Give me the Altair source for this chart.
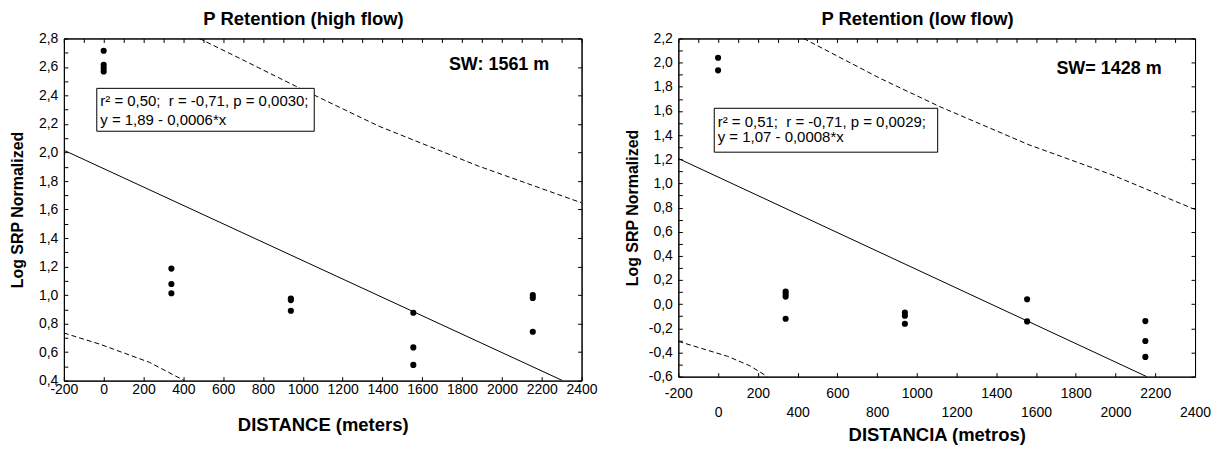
import altair as alt
import pandas as pd

FONT = "Liberation Sans"
NB = "\u00a0"

# ---------------- data: high flow panel ----------------
hf_title = "P Retention (high flow)"
hf_xtitle = "DISTANCE (meters)"
hf_dist = [0, 0, 0, 0, 340, 340, 340, 940, 940, 940, 1555, 1555, 1555, 2155, 2155, 2155]
hf_srp = [2.714, 2.616, 2.592, 2.569, 1.186, 1.078, 1.013, 0.976, 0.965, 0.89,
          0.876, 0.633, 0.51, 1.0, 0.98, 0.743]
hf_fit_x = [-200, 2305]
hf_fit_y = [2.016, 0.40]
hf_up_x = [480, 713, 963, 1380, 1880, 2372, 2400]
hf_up_y = [2.80, 2.64, 2.466, 2.186, 1.906, 1.661, 1.648]
hf_lo_x = [-200, -20, 230, 405]
hf_lo_y = [0.734, 0.656, 0.528, 0.40]
hf_ann = ["r\u00b2 = 0,50;" + NB + " r = -0,71, p = 0,0030;", "y = 1,89 - 0,0006*x"]
hf_sw = "SW: 1561 m"
hf_xdom = [-200, 2400]
hf_ydom = [0.4, 2.8]
hf_xticks = [-200, 0, 200, 400, 600, 800, 1000, 1200, 1400, 1600, 1800, 2000, 2200, 2400]
hf_yticks = [0.4, 0.5, 0.6, 0.7, 0.8, 0.9, 1.0, 1.1, 1.2, 1.3, 1.4, 1.5, 1.6, 1.7,
             1.8, 1.9, 2.0, 2.1, 2.2, 2.3, 2.4, 2.5, 2.6, 2.7, 2.8]
hf_yticks_right = [0.4, 0.6, 0.8, 1.0, 1.2, 1.4, 1.6, 1.8, 2.0, 2.2, 2.4, 2.6, 2.8]
hf_xticks_top = [-200, -100, 0, 100, 200, 300, 400, 500, 600, 700, 800, 900, 1000, 1100, 1200,
                 1300, 1400, 1500, 1600, 1700, 1800, 1900, 2000, 2100, 2200, 2300, 2400]

# ---------------- data: low flow panel ----------------
lf_title = "P Retention (low flow)"
lf_xtitle = "DISTANCIA (metros)"
lf_dist = [0, 0, 340, 340, 340, 340, 940, 940, 940, 1555, 1555, 2150, 2150, 2150]
lf_srp = [2.04, 1.936, 0.105, 0.085, 0.063, -0.121, -0.069, -0.096, -0.162,
          0.041, -0.143, -0.14, -0.305, -0.437]
lf_fit_x = [-200, 2157]
lf_fit_y = [1.206, -0.60]
lf_up_x = [430, 815, 1115, 1565, 1982, 2382, 2400]
lf_up_y = [2.20, 1.870, 1.636, 1.319, 1.071, 0.796, 0.785]
lf_lo_x = [-200, 48, 160, 248]
lf_lo_y = [-0.308, -0.432, -0.51, -0.60]
lf_ann = ["r\u00b2 = 0,51;" + NB + " r = -0,71, p = 0,0029;", "y = 1,07 - 0,0008*x"]
lf_sw = "SW= 1428 m"
lf_xdom = [-200, 2400]
lf_ydom = [-0.6, 2.2]
lf_xticks = [-200, 0, 200, 400, 600, 800, 1000, 1200, 1400, 1600, 1800, 2000, 2200, 2400]
lf_yticks = [-0.6, -0.5, -0.4, -0.3, -0.2, -0.1, 0.0, 0.1, 0.2, 0.3, 0.4, 0.5, 0.6, 0.7,
             0.8, 0.9, 1.0, 1.1, 1.2, 1.3, 1.4, 1.5, 1.6, 1.7, 1.8, 1.9, 2.0, 2.1, 2.2]
lf_yticks_right = [-0.6, -0.4, -0.2, 0.0, 0.2, 0.4, 0.6, 0.8, 1.0, 1.2, 1.4, 1.6, 1.8, 2.0, 2.2]
lf_xticks_top = hf_xticks_top

YLABEL = ("round(datum.value*10) % 2 == 0 ? "
          "(datum.value < -0.001 ? '-' : '') + replace(format(abs(datum.value), '.1f'), '.', ',') : ''")


def panel(title, xtitle, dist, srp, fit_x, fit_y, up_x, up_y, lo_x, lo_y, ann, sw,
          xdom, ydom, xticks, yticks, yticks_right, xticks_top,
          width, height, xlabel_expr, xlabel_pad, xtitle_pad, box, ann_y, sw_xy):
    xs = alt.Scale(domain=xdom, nice=False, zero=False)
    ys = alt.Scale(domain=ydom, nice=False, zero=False)
    pts = pd.DataFrame({"d": dist, "v": srp})
    fit = pd.DataFrame({"d": fit_x, "v": fit_y})
    up = pd.DataFrame({"d": up_x, "v": up_y})
    lo = pd.DataFrame({"d": lo_x, "v": lo_y})
    one = pd.DataFrame({"a": [0]})

    x_axis = alt.Axis(values=xticks, tickSize={"expr": "-4"}, labelExpr=xlabel_expr,
                      labelFlush=False, labelOverlap=False, labelPadding=xlabel_pad,
                      labelLineHeight=19, titlePadding=xtitle_pad, minExtent=20, maxExtent=20,
                      titleFontSize=18.5, grid=False)
    y_axis = alt.Axis(values=yticks, tickSize={"expr": "-4"}, labelExpr=YLABEL,
                      labelFlush=False, labelOverlap=False, labelPadding=10,
                      titlePadding=8, minExtent=30, maxExtent=30, titleFontSize=16, grid=False)

    points = alt.Chart(pts).mark_circle(size=38, color="black", opacity=1).encode(
        x=alt.X("d:Q", scale=xs, axis=x_axis, title=xtitle),
        y=alt.Y("v:Q", scale=ys, axis=y_axis, title="Log SRP Normalized"),
    )
    mirror = alt.Chart(pts).mark_point(opacity=0).encode(
        x=alt.X("d:Q", scale=xs, axis=alt.Axis(orient="top", values=xticks_top, labels=False,
                                               tickSize={"expr": "-4"}, title=None, grid=False,
                                               minExtent=0, maxExtent=0)),
        y=alt.Y("v:Q", scale=ys, axis=alt.Axis(orient="right", values=yticks_right, labels=False,
                                               tickSize={"expr": "-4"}, title=None, grid=False,
                                               minExtent=0, maxExtent=0)),
    )
    fit_line = alt.Chart(fit).mark_line(color="black", strokeWidth=1, clip=True).encode(
        x=alt.X("d:Q", scale=xs, axis=None), y=alt.Y("v:Q", scale=ys, axis=None))
    up_line = alt.Chart(up).mark_line(color="black", strokeWidth=1, strokeDash=[5, 3],
                                      clip=True).encode(
        x=alt.X("d:Q", scale=xs, axis=None), y=alt.Y("v:Q", scale=ys, axis=None))
    lo_line = alt.Chart(lo).mark_line(color="black", strokeWidth=1, strokeDash=[5, 3],
                                      clip=True).encode(
        x=alt.X("d:Q", scale=xs, axis=None), y=alt.Y("v:Q", scale=ys, axis=None))
    rect = alt.Chart(one).mark_rect(fill="white", stroke="black", strokeWidth=1).encode(
        x=alt.value(box[0]), x2=alt.value(box[1]), y=alt.value(box[2]), y2=alt.value(box[3]))
    t1 = alt.Chart(pd.DataFrame({"t": [ann[0]]})).mark_text(
        align="left", baseline="middle", font=FONT, fontSize=15, color="black").encode(
        x=alt.value(box[0] + 3.5), y=alt.value(ann_y[0]), text="t:N")
    t2 = alt.Chart(pd.DataFrame({"t": [ann[1]]})).mark_text(
        align="left", baseline="middle", font=FONT, fontSize=15, color="black").encode(
        x=alt.value(box[0] + 3.5), y=alt.value(ann_y[1]), text="t:N")
    swt = alt.Chart(pd.DataFrame({"t": [sw]})).mark_text(
        align="left", baseline="middle", font=FONT, fontSize=18, fontWeight="bold",
        color="black").encode(x=alt.value(sw_xy[0]), y=alt.value(sw_xy[1]), text="t:N")

    return alt.layer(points, fit_line, up_line, lo_line, rect, t1, t2, swt, mirror).resolve_axis(
        x="independent", y="independent"
    ).properties(
        width=width, height=height,
        title=alt.TitleParams(title, anchor="middle", frame="bounds", fontSize=18.5,
                              fontWeight="bold", font=FONT, color="black", offset=3.5),
    )


left = panel(hf_title, hf_xtitle, hf_dist, hf_srp, hf_fit_x, hf_fit_y, hf_up_x, hf_up_y,
             hf_lo_x, hf_lo_y, hf_ann, hf_sw, hf_xdom, hf_ydom, hf_xticks, hf_yticks,
             hf_yticks_right, hf_xticks_top, 519, 343,
             "'' + datum.value", 6, 15.5, (33, 251, 50, 93), (63, 82), (386, 27))

right = panel(lf_title, lf_xtitle, lf_dist, lf_srp, lf_fit_x, lf_fit_y, lf_up_x, lf_up_y,
              lf_lo_x, lf_lo_y, lf_ann, lf_sw, lf_xdom, lf_ydom, lf_xticks, lf_yticks,
              lf_yticks_right, lf_xticks_top, 518, 339,
              "datum.value % 400 == 0 ? ['', '' + datum.value] : '' + datum.value",
              14, 29.5, (36, 260, 70, 114), (84, 99), (379, 31))

chart = alt.hconcat(left, right, spacing=25).properties(
    padding={"left": 1, "top": 0, "right": 0, "bottom": 0}
).configure_view(stroke="black", strokeWidth=1).configure_axis(
    labelFont=FONT, labelFontSize=14, labelColor="black", titleFont=FONT,
    titleFontWeight="bold", titleColor="black", domainColor="black", tickColor="black",
    domainWidth=1, tickWidth=1
)

chart.save("out.html", embed_options={"renderer": "svg", "actions": False})
